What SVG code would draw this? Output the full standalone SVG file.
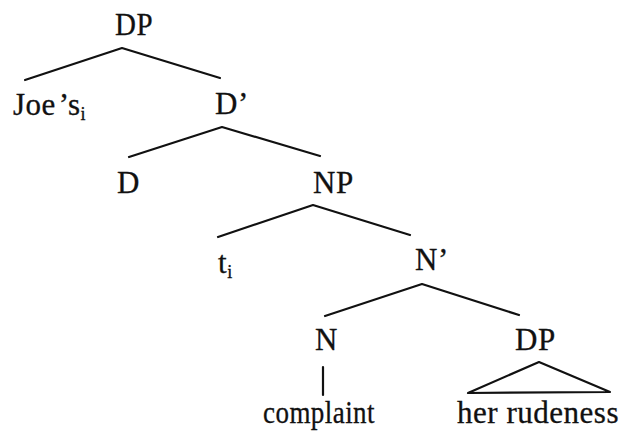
<svg xmlns="http://www.w3.org/2000/svg" width="624" height="436" viewBox="0 0 624 436">
<style>
text{font-family:"Liberation Serif","Times New Roman",serif;font-size:31px;fill:#111;stroke:#111;stroke-width:0.3;letter-spacing:0.5px}
.sub{font-size:18px}
.e{stroke:#111;stroke-width:2.2;fill:none;stroke-linecap:round;stroke-linejoin:round}
</style>
<rect width="624" height="436" fill="#fff"/>
<g id="connectors">
<polyline class="e" points="25,80 122,48 220,78"/>
<polyline class="e" points="129,157 222,127 320,156"/>
<polyline class="e" points="218,237 313,205 410,235"/>
<polyline class="e" points="325,316 422,284 519,315"/>
<line class="e" x1="323" y1="367" x2="323" y2="395"/>
<polygon class="e" points="539,362 468,393 610,392"/>
</g>
<g id="n-dp"><text x="115" y="35" textLength="38" lengthAdjust="spacingAndGlyphs">DP</text></g>
<g id="n-joes"><text x="13" y="115">Joe<tspan dx="3">’s</tspan><tspan class="sub" dy="5">i</tspan></text></g>
<g id="n-dbar"><text x="215" y="114">D’</text></g>
<g id="n-d"><text x="117" y="193">D</text></g>
<g id="n-np"><text x="313" y="193">NP</text></g>
<g id="n-t"><text x="218" y="273">t<tspan class="sub" dy="5">i</tspan></text></g>
<g id="n-nbar"><text x="415" y="270">N’</text></g>
<g id="n-n"><text x="315" y="350">N</text></g>
<g id="n-dp2"><text x="515" y="350">DP</text></g>
<g id="n-complaint"><text x="263" y="423" textLength="112" lengthAdjust="spacingAndGlyphs">complaint</text></g>
<g id="n-rudeness"><text x="457" y="423" textLength="162" lengthAdjust="spacingAndGlyphs">her rudeness</text></g>
</svg>
